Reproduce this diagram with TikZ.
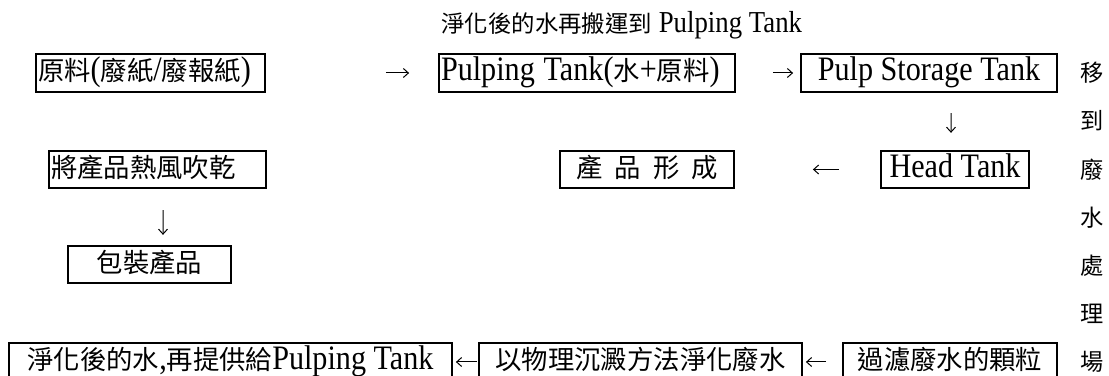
\documentclass[tikz,border=0pt]{standalone}
\usepackage{fontspec}
\setmainfont{Noto Sans CJK TC}
\newfontfamily\latinfont[Scale=1.3,FakeStretch=0.88]{Liberation Serif}
\newcommand{\latn}[1]{{\latinfont #1}}
\usetikzlibrary{arrows.meta}

\begin{document}
\begin{tikzpicture}[
    tank/.style={draw, line width=0.018cm, inner sep=0pt, minimum height=0.375cm,
                 text height=0.21cm, text depth=0.05cm},
    flow/.style={line width=0.010cm, -{Straight Barb[length=0.05cm, width=0.09cm]}}]
            \useasboundingbox (0,0) rectangle (11.090000,3.760000);
            {\fontsize{7.5}{9}\selectfont

            % Note above the first row
            \node [anchor=west, font=\fontsize{6.66}{8}\selectfont] (note) at (4.320000,3.510000) {淨化後的水再搬運到\latn{ Pulping Tank}};%

            % Drawing box raw
            \node [tank, text width=2.250000cm, inner xsep=0.020000cm, align=left] (raw) at (1.505000,3.030000) {原料\latn{(}廢紙\latn{/}廢報紙\latn{)}};%

            % Drawing box pulping
            \node [tank, text width=2.920000cm, inner xsep=0.020000cm, align=left] (pulping) at (5.870000,3.030000) {\latn{Pulping Tank(}水\latn{+}原料\latn{)}};%

            % Drawing box storage
            \node [tank, minimum width=2.560000cm] (storage) at (9.290000,3.030000) {\latn{Pulp Storage Tank}};%

            % Drawing box head
            \node [tank, minimum width=1.480000cm] (head) at (9.550000,2.065000) {\latn{Head Tank}};%

            % Drawing box product
            \node [tank, minimum width=1.740000cm] (product) at (6.470000,2.065000) {產\hspace{0.12cm}品\hspace{0.12cm}形\hspace{0.12cm}成};%

            % Drawing box dry
            \node [tank, text width=2.130000cm, inner xsep=0.020000cm, align=left] (dry) at (1.575000,2.065000) {將產品熱風吹乾};%

            % Drawing box pack
            \node [tank, minimum width=1.630000cm] (pack) at (1.495000,1.115000) {包裝產品};%

            % Drawing box clean
            \node [tank, minimum width=4.430000cm] (clean) at (2.305000,0.140000) {淨化後的水\latn{,}再提供給\latn{Pulping Tank}};%

            % Drawing box settle
            \node [tank, minimum width=3.230000cm] (settle) at (6.405000,0.140000) {以物理沉澱方法淨化廢水};%

            % Drawing box filter
            \node [tank, minimum width=2.140000cm] (filter) at (9.500000,0.140000) {過濾廢水的顆粒};%

            % Side text, one character a line
            \node [align=center, font=\fontsize{6.6}{13.72}\selectfont] (side) at (10.920000,1.585000) {移\\到\\廢\\水\\處\\理\\場};%

            % Drawing arrows
            \draw [flow, shorten <=1.200000cm, shorten >=0.290000cm] (raw.east) -- (pulping.west);%
            \draw [flow, shorten <=0.370000cm, shorten >=0.070000cm] (pulping.east) -- (storage.west);%
            \draw [flow, shorten <=0.205000cm, shorten >=0.170000cm] ([xshift=0.220000cm]storage.south) -- ([xshift=-0.040000cm]head.north);%
            \draw [flow, shorten <=0.410000cm, shorten >=0.780000cm] (head.west) -- (product.east);%
            \draw [flow, shorten <=0.210000cm, shorten >=0.100000cm] ([xshift=0.055000cm]dry.south) -- ([xshift=0.135000cm]pack.north);%
            \draw [flow, shorten <=0.160000cm, shorten >=0.030000cm] (filter.west) -- (settle.east);%
            \draw [flow, shorten <=0.010000cm, shorten >=0.030000cm] (settle.west) -- (clean.east);%
            }
\end{tikzpicture}
\end{document}
